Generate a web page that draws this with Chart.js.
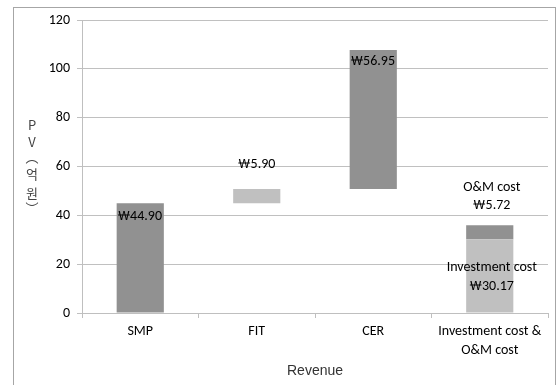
<!DOCTYPE html>
<html>
<head>
<meta charset="utf-8">
<script src="https://cdn.jsdelivr.net/npm/chart.js@4/dist/chart.umd.min.js"></script>
<style>
html,body{margin:0;padding:0;background:#fff;}
#wrap{width:557px;height:385px;position:relative;}
</style>
</head>
<body>
<div id="wrap"><canvas id="c" width="557" height="385"></canvas></div>
<script>
// ---- data ----
const categories = ["SMP", "FIT", "CER", ["Investment cost &", "O&M cost"]];
const mainStart = [0, 44.90, 50.80, 0];
const mainEnd   = [44.90, 50.80, 107.75, 30.17];
const omStart   = [null, null, null, 30.17];
const omEnd     = [null, null, null, 35.89];
const yTicks    = [0, 20, 40, 60, 80, 100, 120];
const valueLabels = ["₩44.90", "₩5.90", "₩56.95", "₩30.17"];
const mainNames = [null, null, null, "Investment cost"];
const omLabel   = ["O&M cost", "₩5.72"];
const xTitle = "Revenue";
const yTitleChars = ["P", "V", "︵", "억", "원", "︶"];

const DARK = "#919191", LIGHT = "#c0c0c0";
const FONT = "Carlito, Lato, 'Noto Sans', sans-serif";

const mainData = mainStart.map((s, i) => [s, mainEnd[i]]);
const omData = omStart.map((s, i) => s === null ? null : [s, omEnd[i]]);

const deco = {
  id: "deco",
  beforeDraw(chart) {
    const ctx = chart.ctx;
    ctx.save();
    ctx.fillStyle = "#fff";
    ctx.fillRect(0, 0, chart.width, chart.height);
    ctx.strokeStyle = "#a6a6a6";
    ctx.lineWidth = 1;
    ctx.strokeRect(13.5, 7.5, 542, 400);
    ctx.restore();
  },
  afterDraw(chart) {
    const ctx = chart.ctx;
    const m0 = chart.getDatasetMeta(0).data;
    const m1 = chart.getDatasetMeta(1).data;
    ctx.save();
    ctx.fillStyle = "#000";
    ctx.font = "14px " + FONT;
    ctx.textBaseline = "middle";
    // SMP
    let b = m0[0];
    ctx.textAlign = "left";
    ctx.fillText(valueLabels[0], b.x - b.width / 2 + 1, b.y + 13);
    // FIT
    b = m0[1];
    ctx.textAlign = "center";
    ctx.fillText(valueLabels[1], b.x, b.y - 24);
    // CER
    b = m0[2];
    ctx.textAlign = "left";
    ctx.fillText(valueLabels[2], b.x - b.width / 2 + 1, b.y + 12);
    // Investment
    b = m0[3];
    ctx.textAlign = "center";
    const mid = (b.y + b.base) / 2;
    ctx.fillText(mainNames[3], b.x + 2, mid - 8);
    ctx.fillText(valueLabels[3], b.x + 2, mid + 11);
    // O&M
    const o = m1[3];
    ctx.fillText(omLabel[0], o.x + 2, o.y - 38);
    ctx.fillText(omLabel[1], o.x + 2, o.y - 20);
    // x title
    ctx.fillStyle = "#333";
    ctx.font = "14px 'Liberation Sans', sans-serif";
    ctx.fillText(xTitle, (chart.chartArea.left + chart.chartArea.right) / 2, 371);
    // y title (vertical stacked)
    ctx.font = "13px 'Noto Sans CJK KR', 'DejaVu Sans', sans-serif";
    ctx.fillStyle = "#444";
    const ys = [125, 142, 157, 174, 193, 208];
    yTitleChars.forEach((ch, i) => ctx.fillText(ch, 32, ys[i]));
    ctx.restore();
  }
};

new Chart(document.getElementById("c"), {
  type: "bar",
  data: {
    labels: categories,
    datasets: [
      { data: mainData, backgroundColor: [DARK, LIGHT, DARK, LIGHT], grouped: false,
        categoryPercentage: 1, barPercentage: 0.405, borderWidth: 0 },
      { data: omData, backgroundColor: DARK, grouped: false,
        categoryPercentage: 1, barPercentage: 0.405, borderWidth: 0 }
    ]
  },
  options: {
    responsive: false,
    animation: false,
    devicePixelRatio: 1,
    layout: { padding: { top: 20, right: 9, left: 0, bottom: 0 } },
    plugins: { legend: { display: false }, tooltip: { enabled: false } },
    scales: {
      x: {
        grid: { display: true, drawOnChartArea: false, drawTicks: true, tickLength: 5, offset: true, color: "#bfbfbf" },
        border: { display: true, color: "#bfbfbf" },
        ticks: { color: "#000", font: { size: 14, family: FONT, lineHeight: 1.35 }, padding: 4, maxRotation: 0, autoSkip: false },
        afterFit(s) { s.height = 72; }
      },
      y: {
        min: 0, max: 120,
        afterBuildTicks(s) { s.ticks = yTicks.map(v => ({ value: v })); },
        grid: { color: "#c0c0c0", drawTicks: true, tickLength: 5 },
        border: { display: true, color: "#bfbfbf" },
        ticks: { color: "#000", font: { size: 14, family: FONT }, padding: 7 },
        afterFit(s) { s.width = 82; }
      }
    }
  },
  plugins: [deco]
});
</script>
</body>
</html>
